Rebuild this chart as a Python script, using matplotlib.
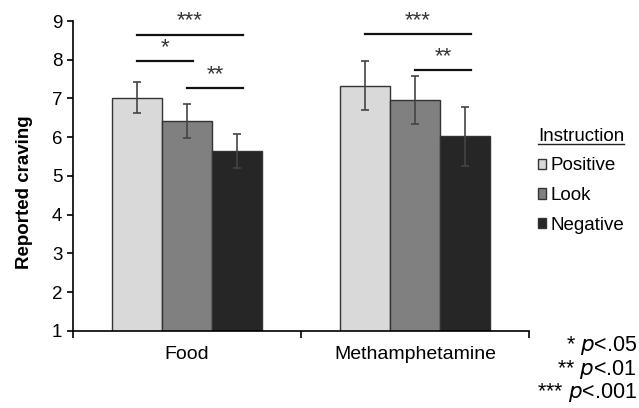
import numpy as np
import matplotlib
matplotlib.use("Agg")
import matplotlib.pyplot as plt
from matplotlib.lines import Line2D

plt.rcParams['font.family'] = ['Liberation Sans', 'DejaVu Sans']

# data
categories = ["Food", "Methamphetamine"]
conditions = ["Positive", "Look", "Negative"]
means = {
    "Positive": [7.02, 7.33],
    "Look": [6.42, 6.96],
    "Negative": [5.64, 6.02],
}
errors = {
    "Positive": [0.40, 0.64],
    "Look": [0.43, 0.62],
    "Negative": [0.44, 0.77],
}
colors = {"Positive": "#d9d9d9", "Look": "#808080", "Negative": "#262626"}

# significance brackets: (category index, from bar, to bar, line height, label)
brackets = [
    (0, 0, 2, 8.65, "***"),
    (0, 0, 1, 7.96, "*"),
    (0, 1, 2, 7.26, "**"),
    (1, 0, 2, 8.66, "***"),
    (1, 1, 2, 7.74, "**"),
]
p_notes = [("*", ".05"), ("**", ".01"), ("***", ".001")]

fig = plt.figure(figsize=(6.39, 4.08), dpi=100)
ax = fig.add_axes([0.114, 0.189, 0.714, 0.7595])

width = 0.22
x = np.arange(len(categories))
bars = []
for k, cond in enumerate(conditions):
    b = ax.bar(x + (k - 1) * width, means[cond], width, bottom=0,
               color=colors[cond], edgecolor="#333333", linewidth=1.0,
               yerr=errors[cond], capsize=3,
               error_kw=dict(ecolor="#444444", elinewidth=1.2, capthick=1.2),
               label=cond, zorder=2)
    bars.append(b)

for cat, i, j, yv, lab in brackets:
    x1 = cat + (i - 1) * width
    x2 = cat + (j - 1) * width + 0.025
    ax.plot([x1, x2], [yv, yv], color="#111111", lw=1.6, clip_on=False)
    ax.text((x1 + x2) / 2, yv + 0.08, lab, ha="center",
            va="bottom", fontsize=16, color="#333333", clip_on=False)

ax.set_ylim(1, 9)
ax.set_xlim(-0.5, 1.5)
ax.set_yticks(range(1, 10))
ax.tick_params(axis="y", labelsize=13.5, direction="out", length=4, width=1.2)
ax.set_xticks([-0.5, 0.5, 1.5])
ax.set_xticklabels(["", "", ""])
ax.tick_params(axis="x", which="major", direction="out", length=5, width=1.2)
ax.set_xticks(x, minor=True)
ax.set_xticklabels(categories, minor=True, fontsize=14)
ax.tick_params(axis="x", which="minor", length=0, pad=11)
ax.spines["top"].set_visible(False)
ax.spines["right"].set_visible(False)
ax.spines["left"].set_linewidth(1.2)
ax.spines["bottom"].set_linewidth(1.2)
ax.set_ylabel("Reported craving", fontsize=13.5, fontweight="bold")
ax.yaxis.set_label_coords(-0.087, 0.447)

leg = ax.legend(handles=[b.patches[0] for b in bars], labels=conditions,
                title="Instruction", loc="upper left",
                bbox_to_anchor=(0.827, 0.71), bbox_transform=fig.transFigure,
                frameon=False, fontsize=13.5, title_fontsize=13.5,
                handlelength=0.45, handleheight=0.45, handletextpad=0.2,
                labelspacing=0.68, borderpad=0, alignment="left")

# underline the legend title
fig.canvas.draw()
tb = leg.get_title().get_window_extent()
inv = fig.transFigure.inverted()
(x0, y0), (x1_, _) = inv.transform([(tb.x0, tb.y0 + 1), (tb.x1, tb.y0)])
fig.add_artist(Line2D([x0, x1_], [y0, y0], transform=fig.transFigure,
                      color="#222222", lw=1.0))

for n, (stars, pv) in enumerate(p_notes):
    fig.text(0.997, 0.152 - n * 0.0576, stars + r" $\it{p}$<" + pv,
             ha="right", va="center", fontsize=15.5)

fig.savefig("out.png", dpi=100)
